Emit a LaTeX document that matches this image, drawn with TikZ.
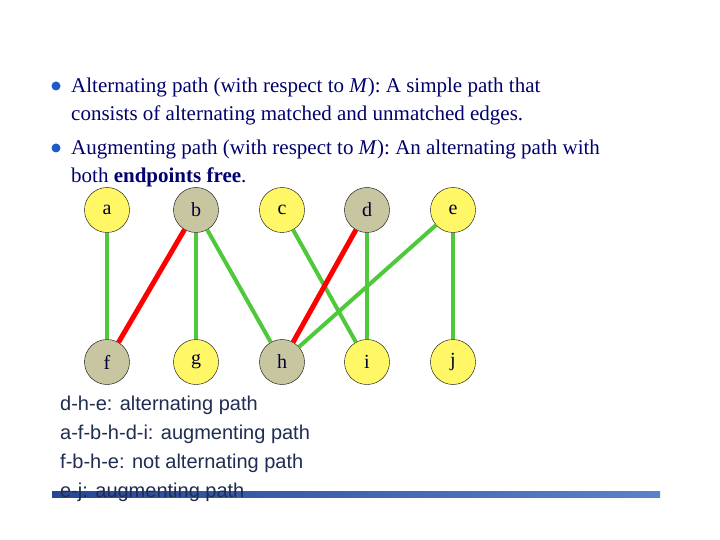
\documentclass[tikz,border=0pt]{standalone}
\usepackage{fontspec}
\setmainfont{Liberation Serif}
\newfontfamily\arialf{Liberation Sans}
\usetikzlibrary{shapes.geometric}
\begin{document}
\begin{tikzpicture}[x=1pt,y=-1pt,
  vert/.style={draw=black,ellipse,minimum width=45pt,minimum height=45pt,inner sep=0pt,font=\fontsize{20}{22}\selectfont,text=black!80!blue},
  free/.style={vert,fill=yellow!60},
  matched/.style={vert,fill={rgb,255:red,200;green,198;blue,160}},
  un/.style={line width=4pt,draw={rgb,255:red,80;green,200;blue,60}},
  mt/.style={line width=5pt,draw=red},
  txt/.style={anchor=base west,inner sep=0pt,text={rgb,255:red,0;green,0;blue,110},font=\fontsize{21}{24}\selectfont},
  btxt/.style={anchor=base west,inner sep=0pt,text={rgb,255:red,30;green,45;blue,80},font=\arialf\fontsize{20}{24}\selectfont},
  bul/.style={circle,fill={rgb,255:red,30;green,90;blue,200},minimum size=9pt,inner sep=0pt}]
\useasboundingbox (0,0) rectangle (720,540);
\node[bul] (b1) at (56,86) {};
\node[bul] (b2) at (56,148) {};
\node[txt] (t1) at (71,93) {Alternating path (with respect to \textit{M}): A simple path that};
\node[txt] (t2) at (71,121) {consists of alternating matched and unmatched edges.};
\node[txt] (t3) at (71,155) {Augmenting path (with respect to \textit{M}): An alternating path with};
\node[txt] (t4) at (71,183) {both \textbf{endpoints free}.};
\node[free] (a) at (107,210) {a};
\node[matched] (b) at (196,210) {b};
\node[free] (c) at (282,210) {c};
\node[matched] (d) at (367,210) {d};
\node[free] (e) at (453,210) {e};
\node[matched] (f) at (107,362) {f};
\node[free] (g) at (196,362) {g};
\node[matched] (h) at (282,362) {h};
\node[free] (i) at (367,362) {i};
\node[free] (j) at (453,362) {j};
\draw[un] (a) -- (f);
\draw[un] (b) -- (g);
\draw[un] (b) -- (h);
\draw[un] (c) -- (i);
\draw[un] (d) -- (i);
\draw[un] (e) -- (h);
\draw[un] (e) -- (j);
\draw[mt] (b) -- (f);
\draw[mt] (d) -- (h);
\coordinate (l1) at (52,494);
\coordinate (l2) at (660,494);
\shade[left color={rgb,255:red,40;green,70;blue,150},right color={rgb,255:red,90;green,130;blue,200}] ([yshift=-3]l1) rectangle ([yshift=3]l2);
\node[btxt] (s1) at (60,410) {d-h-e: alternating path};
\node[btxt] (s2) at (60,439) {a-f-b-h-d-i: augmenting path};
\node[btxt] (s3) at (60,468) {f-b-h-e: not alternating path};
\node[btxt] (s4) at (60,497) {e-j: augmenting path};
\end{tikzpicture}
\end{document}
